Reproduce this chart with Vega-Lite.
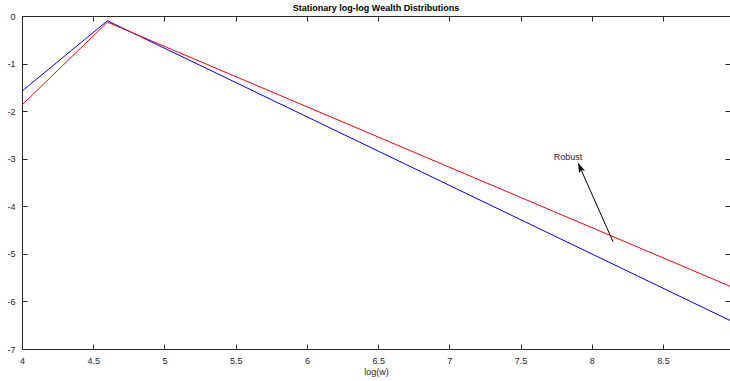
{
  "$schema": "https://vega.github.io/schema/vega-lite/v6.json",
  "autosize": "none",
  "width": 708,
  "height": 333,
  "padding": {"left": 22, "top": 16, "right": 0, "bottom": 32},
  "background": "white",
  "config": {
    "font": "Liberation Sans",
    "view": {"stroke": "#262626", "strokeWidth": 1},
    "axis": {
      "domain": false,
      "grid": false,
      "labelFont": "Liberation Sans",
      "labelFontSize": 9,
      "labelColor": "#262626",
      "labelFlush": false,
      "labelExpr": "'' + datum.value",
      "tickColor": "#262626",
      "tickSize": -5,
      "titleFont": "Liberation Sans",
      "titleFontSize": 9,
      "titleFontWeight": "normal",
      "titleColor": "#262626"
    }
  },
  "title": {
    "text": "Stationary log-log Wealth Distributions",
    "font": "Liberation Sans",
    "fontSize": 9,
    "fontWeight": "bold",
    "color": "#000000",
    "offset": -1
  },
  "datasets": {
    "lines": [
      {"x": 4.0, "y": -1.58, "s": "blue"},
      {"x": 4.6, "y": -0.10, "s": "blue"},
      {"x": 8.97, "y": -6.40, "s": "blue"},
      {"x": 4.0, "y": -1.87, "s": "red"},
      {"x": 4.6, "y": -0.13, "s": "red"},
      {"x": 8.97, "y": -5.68, "s": "red"}
    ],
    "arrow": [
      {"x": 8.149, "y": -4.745, "x2": 7.917, "y2": -3.18, "label": "Robust", "lx": 7.833, "ly": -2.96}
    ]
  },
  "layer": [
    {
      "data": {"name": "lines"},
      "mark": {"type": "line", "strokeWidth": 1, "clip": true},
      "encoding": {
        "x": {
          "field": "x", "type": "quantitative",
          "scale": {"domain": [4, 8.97], "nice": false, "zero": false},
          "axis": {"title": "log(w)", "values": [4, 4.5, 5, 5.5, 6, 6.5, 7, 7.5, 8, 8.5], "labelPadding": 12, "titlePadding": 2}
        },
        "y": {
          "field": "y", "type": "quantitative",
          "scale": {"domain": [-7, 0], "nice": false, "zero": false},
          "axis": {"title": null, "values": [-7, -6, -5, -4, -3, -2, -1, 0], "labelPadding": 12}
        },
        "color": {
          "field": "s", "type": "nominal",
          "scale": {"domain": ["blue", "red"], "range": ["#0000ff", "#ff0000"]},
          "legend": null
        },
        "detail": {"field": "s"}
      }
    },
    {
      "data": {"name": "lines"},
      "mark": {"type": "point", "opacity": 0},
      "encoding": {
        "x": {"field": "x", "type": "quantitative",
          "axis": {"orient": "top", "labels": false, "title": null, "values": [4, 4.5, 5, 5.5, 6, 6.5, 7, 7.5, 8, 8.5]}},
        "y": {"field": "y", "type": "quantitative",
          "axis": {"orient": "right", "labels": false, "title": null, "values": [-7, -6, -5, -4, -3, -2, -1, 0]}}
      }
    },
    {
      "data": {"name": "arrow"},
      "mark": {"type": "rule", "color": "#000000", "strokeWidth": 1},
      "encoding": {
        "x": {"field": "x", "type": "quantitative", "axis": null},
        "y": {"field": "y", "type": "quantitative", "axis": null},
        "x2": {"field": "x2"},
        "y2": {"field": "y2"}
      }
    },
    {
      "data": {"name": "arrow"},
      "mark": {"type": "point", "shape": "M0,-1L0.6,1L0,0.55L-0.6,1Z", "filled": true, "color": "#000000", "opacity": 1, "size": 110, "angle": 336},
      "encoding": {
        "x": {"field": "x2", "type": "quantitative", "axis": null},
        "y": {"field": "y2", "type": "quantitative", "axis": null}
      }
    },
    {
      "data": {"name": "arrow"},
      "mark": {"type": "text", "font": "Liberation Sans", "fontSize": 9, "color": "#262626", "align": "center", "baseline": "middle"},
      "encoding": {
        "x": {"field": "lx", "type": "quantitative", "axis": null},
        "y": {"field": "ly", "type": "quantitative", "axis": null},
        "text": {"field": "label"}
      }
    }
  ],
  "resolve": {"axis": {"x": "independent", "y": "independent"}}
}
